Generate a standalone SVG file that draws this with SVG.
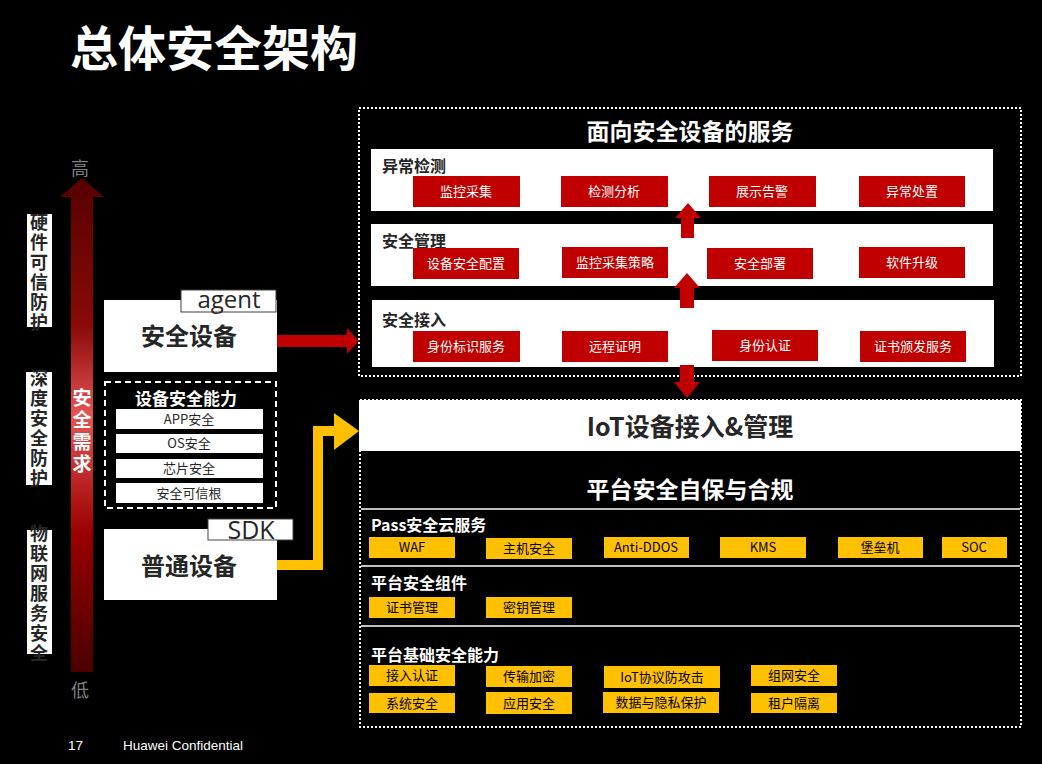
<svg xmlns="http://www.w3.org/2000/svg" width="1042" height="764" viewBox="0 0 1042 764">
<defs>
<linearGradient id="gDemand" x1="0" y1="178" x2="0" y2="672" gradientUnits="userSpaceOnUse">
<stop offset="0" stop-color="#560000"/>
<stop offset="0.3" stop-color="#8a0a0a"/>
<stop offset="0.48" stop-color="#e65454"/>
<stop offset="0.72" stop-color="#9a0000"/>
<stop offset="1" stop-color="#4a0000"/>
</linearGradient>
<style>
.cjk{font-family:"Noto Sans CJK SC","Liberation Sans",sans-serif}
.ttl{font-weight:bold;fill:#fff;text-anchor:middle}
.lbl{font-weight:bold;font-size:16px;fill:#262626}
.wlbl{font-weight:bold;font-size:16px;fill:#fff}
.rb{fill:#c00000}
.rt{font-size:13px;fill:#fff;text-anchor:middle}
.yb{fill:#ffc000}
.yt{font-size:13px;fill:#000;text-anchor:middle}
.panel{fill:#fff}
.vt{font-weight:bold;font-size:18px;fill:#262626;writing-mode:vertical-rl;letter-spacing:2px}
.it{font-size:13px;fill:#262626;text-anchor:middle}
.dot{fill:none;stroke:#fff;stroke-width:2;stroke-dasharray:2 2}
.sep{stroke:#bfbfbf;stroke-width:2}
</style>
</defs>
<rect width="1042" height="764" fill="#000"/>

<text class="cjk" x="70" y="66" font-size="48" font-weight="bold" fill="#fff">总体安全架构</text>

<g id="demand-axis">
<polygon points="60,197 82,178 104,197 93,197 93,672 71,672 71,197" fill="url(#gDemand)"/>
<text class="cjk" x="80" y="175" font-size="18" fill="#7f7f7f" text-anchor="middle">高</text>
<text class="cjk" x="80" y="697" font-size="18" fill="#7f7f7f" text-anchor="middle">低</text>
<text class="cjk" x="82" y="388" font-size="19" font-weight="bold" fill="#fff" style="writing-mode:vertical-rl;letter-spacing:3px">安全需求</text>
</g>

<g id="label-hw">
<rect x="27" y="214" width="25" height="113" fill="#fff"/>
<text class="cjk vt" x="39" y="213">硬件可信防护</text>
</g>
<g id="label-deep">
<rect x="26" y="372" width="26" height="113" fill="#fff"/>
<text class="cjk vt" x="39" y="369">深度安全防护</text>
</g>
<g id="label-iot">
<rect x="27" y="530" width="25" height="124" fill="#fff"/>
<text class="cjk vt" x="39" y="524">物联网服务安全</text>
</g>

<g id="secure-device">
<rect x="104" y="300" width="173" height="72" fill="#fff"/>
<rect x="181" y="290" width="95" height="22" fill="#fff" stroke="#404040" stroke-width="1"/>
<text x="229" y="308" font-family="Open Sans,Liberation Sans,sans-serif" font-size="24" fill="#262626" text-anchor="middle">agent</text>
<text class="cjk" x="189" y="345" font-size="24" font-weight="bold" fill="#262626" text-anchor="middle">安全设备</text>
</g>

<g id="device-capability">
<rect x="105" y="382" width="171" height="126" fill="none" stroke="#fff" stroke-width="2" stroke-dasharray="6 4"/>
<text class="cjk" x="186" y="405" font-size="17" font-weight="bold" fill="#fff" text-anchor="middle">设备安全能力</text>
<rect x="116" y="409" width="147" height="20" fill="#fff"/>
<rect x="116" y="434" width="147" height="19" fill="#fff"/>
<rect x="116" y="459" width="147" height="19" fill="#fff"/>
<rect x="116" y="483" width="147" height="20" fill="#fff"/>
<text class="cjk it" x="189" y="424">APP安全</text>
<text class="cjk it" x="189" y="448">OS安全</text>
<text class="cjk it" x="189" y="473">芯片安全</text>
<text class="cjk it" x="189" y="498">安全可信根</text>
</g>

<g id="common-device">
<rect x="104" y="529" width="173" height="71" fill="#fff"/>
<rect x="208" y="519" width="85" height="21" fill="#fff" stroke="#404040" stroke-width="1"/>
<text x="251" y="539" font-family="Open Sans,Liberation Sans,sans-serif" font-size="25" fill="#262626" text-anchor="middle">SDK</text>
<text class="cjk" x="189" y="575" font-size="24" font-weight="bold" fill="#262626" text-anchor="middle">普通设备</text>
</g>

<g id="device-services">
<rect class="dot" x="359" y="108" width="662" height="268"/>
<text class="cjk ttl" x="690" y="140" font-size="23">面向安全设备的服务</text>
<rect class="panel" x="371" y="149" width="622" height="62"/>
<text class="cjk lbl" x="382" y="172">异常检测</text>
<rect class="rb" x="413" y="176" width="107" height="31"/>
<rect class="rb" x="561" y="176" width="107" height="31"/>
<rect class="rb" x="709" y="176" width="107" height="31"/>
<rect class="rb" x="859" y="176" width="106" height="31"/>
<text class="cjk rt" x="466" y="196">监控采集</text>
<text class="cjk rt" x="614" y="196">检测分析</text>
<text class="cjk rt" x="762" y="196">展示告警</text>
<text class="cjk rt" x="912" y="196">异常处置</text>

<rect class="panel" x="371" y="224" width="622" height="62"/>
<text class="cjk lbl" x="382" y="247">安全管理</text>
<rect class="rb" x="413" y="248" width="106" height="31"/>
<rect class="rb" x="562" y="247" width="106" height="31"/>
<rect class="rb" x="707" y="248" width="106" height="31"/>
<rect class="rb" x="859" y="247" width="106" height="31"/>
<text class="cjk rt" x="466" y="268">设备安全配置</text>
<text class="cjk rt" x="615" y="267">监控采集策略</text>
<text class="cjk rt" x="760" y="268">安全部署</text>
<text class="cjk rt" x="912" y="267">软件升级</text>

<rect class="panel" x="372" y="300" width="622" height="67"/>
<text class="cjk lbl" x="382" y="326">安全接入</text>
<rect class="rb" x="413" y="331" width="107" height="31"/>
<rect class="rb" x="562" y="331" width="106" height="31"/>
<rect class="rb" x="712" y="330" width="106" height="31"/>
<rect class="rb" x="860" y="331" width="106" height="31"/>
<text class="cjk rt" x="466" y="351">身份标识服务</text>
<text class="cjk rt" x="615" y="351">远程证明</text>
<text class="cjk rt" x="765" y="350">身份认证</text>
<text class="cjk rt" x="913" y="351">证书颁发服务</text>
</g>

<g id="platform">
<rect class="dot" x="360" y="400" width="661" height="327"/>
<rect x="359" y="400" width="662" height="51" fill="#fff"/>
<text class="cjk" x="690" y="436" font-size="25" font-weight="bold" fill="#262626" text-anchor="middle">IoT设备接入&amp;管理</text>
<text class="cjk ttl" x="690" y="498" font-size="23">平台安全自保与合规</text>
<line class="sep" x1="361" y1="509" x2="1020" y2="509"/>
<text class="cjk wlbl" x="371" y="531">Pass安全云服务</text>
<rect class="yb" x="369" y="537" width="86" height="21"/>
<rect class="yb" x="486" y="538" width="86" height="21"/>
<rect class="yb" x="604" y="537" width="85" height="21"/>
<rect class="yb" x="720" y="537" width="86" height="21"/>
<rect class="yb" x="838" y="537" width="85" height="21"/>
<rect class="yb" x="942" y="537" width="65" height="21"/>
<text class="cjk yt" x="412" y="552">WAF</text>
<text class="cjk yt" x="529" y="553">主机安全</text>
<text class="cjk yt" x="646" y="552">Anti-DDOS</text>
<text class="cjk yt" x="763" y="552">KMS</text>
<text class="cjk yt" x="880" y="552">堡垒机</text>
<text class="cjk yt" x="974" y="552">SOC</text>
<line class="sep" x1="361" y1="566" x2="1020" y2="566"/>
<text class="cjk wlbl" x="371" y="589">平台安全组件</text>
<rect class="yb" x="369" y="597" width="86" height="21"/>
<rect class="yb" x="486" y="597" width="86" height="21"/>
<text class="cjk yt" x="412" y="612">证书管理</text>
<text class="cjk yt" x="529" y="612">密钥管理</text>
<line class="sep" x1="361" y1="626" x2="1020" y2="626"/>
<text class="cjk wlbl" x="371" y="661">平台基础安全能力</text>
<rect class="yb" x="369" y="665" width="86" height="21"/>
<rect class="yb" x="486" y="666" width="86" height="21"/>
<rect class="yb" x="604" y="666" width="116" height="22"/>
<rect class="yb" x="751" y="665" width="86" height="21"/>
<rect class="yb" x="369" y="693" width="86" height="20"/>
<rect class="yb" x="486" y="692" width="86" height="22"/>
<rect class="yb" x="603" y="692" width="116" height="21"/>
<rect class="yb" x="751" y="693" width="86" height="20"/>
<text class="cjk yt" x="412" y="680">接入认证</text>
<text class="cjk yt" x="529" y="681">传输加密</text>
<text class="cjk yt" x="662" y="682">IoT协议防攻击</text>
<text class="cjk yt" x="794" y="680">组网安全</text>
<text class="cjk yt" x="412" y="708">系统安全</text>
<text class="cjk yt" x="529" y="708">应用安全</text>
<text class="cjk yt" x="661" y="707">数据与隐私保护</text>
<text class="cjk yt" x="794" y="708">租户隔离</text>
</g>

<g id="connectors">
<polygon points="277,335 347,335 347,328 359,341 347,354 347,347 277,347" fill="#c00000"/>
<path d="M277,565 H318 V431 H336" fill="none" stroke="#ffc000" stroke-width="10"/>
<polygon points="334,413 359,431 334,450" fill="#ffc000"/>
<rect x="681" y="217" width="13" height="21" fill="#c00000"/>
<polygon points="675,218 688,203 701,218" fill="#c00000"/>
<rect x="680" y="287" width="14" height="21" fill="#c00000"/>
<polygon points="674,288 687,273 700,288" fill="#c00000"/>
<rect x="680" y="365" width="14" height="18" fill="#c00000"/>
<polygon points="674,382 687,398 700,382" fill="#c00000"/>
</g>

<text x="68" y="750" font-family="Liberation Sans,Arial,sans-serif" font-size="13.5" fill="#fff">17</text>
<text x="123" y="750" font-family="Liberation Sans,Arial,sans-serif" font-size="13.5" fill="#fff">Huawei Confidential</text>
</svg>
